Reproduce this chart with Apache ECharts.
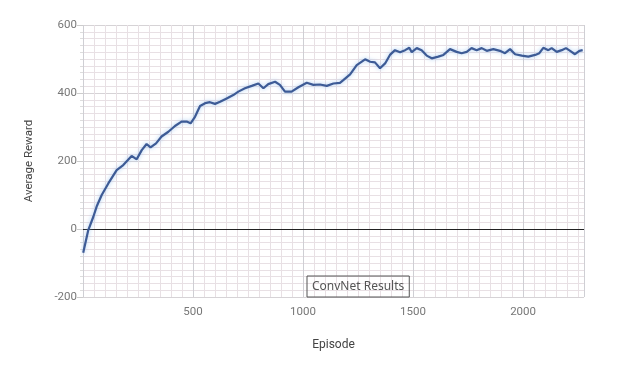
<!DOCTYPE html>
<html>
<head>
<meta charset="utf-8">
<script src="https://cdn.jsdelivr.net/npm/echarts@6/dist/echarts.min.js"></script>
<style>html,body{margin:0;padding:0;background:#fff;}#c{width:629px;height:365px;}</style>
</head>
<body>
<div id="c"></div>
<script>
const episodes = [1, 24, 47, 62, 85, 115, 153, 183, 221, 244, 267, 289, 307, 332, 357, 388, 418, 448, 471, 489, 509, 532, 555, 577, 600, 623, 653, 683, 706, 736, 767, 797, 820, 842, 873, 895, 918, 948, 979, 1017, 1047, 1077, 1108, 1138, 1168, 1183, 1214, 1244, 1282, 1305, 1327, 1350, 1373, 1395, 1418, 1441, 1464, 1483, 1494, 1517, 1539, 1562, 1585, 1615, 1638, 1668, 1698, 1721, 1744, 1766, 1789, 1812, 1835, 1865, 1895, 1918, 1941, 1964, 1994, 2024, 2055, 2074, 2092, 2115, 2130, 2153, 2176, 2195, 2214, 2236, 2256, 2271];
const rewards = [-70, -3, 36, 66, 100, 134, 173, 188, 215, 205, 232, 250, 240, 252, 272, 286, 303, 316, 316, 311, 330, 362, 370, 373, 368, 374, 384, 394, 404, 414, 421, 428, 414, 426, 433, 424, 404, 404, 417, 430, 424, 425, 421, 428, 430, 438, 455, 482, 499, 492, 490, 473, 487, 512, 526, 520, 526, 533, 520, 532, 526, 510, 502, 507, 512, 529, 521, 517, 521, 532, 526, 532, 524, 529, 524, 517, 529, 514, 510, 507, 512, 517, 533, 526, 532, 521, 526, 532, 524, 514, 524, 526];
const seriesName = 'ConvNet Results';
const xTickLabels = ['500', '1000', '1500', '2000'];
const yTickLabels = ['-200', '0', '200', '400', '600'];

const chart = echarts.init(document.getElementById('c'), null, {renderer: 'canvas'});
const font = 'Roboto, "Noto Sans", sans-serif';
chart.setOption({
  animation: false,
  backgroundColor: '#fff',
  grid: {left: 83, right: 45, top: 25, bottom: 68, containLabel: false},
  legend: {
    data: [seriesName],
    icon: 'none',
    itemWidth: 0,
    left: 307, top: 276,
    borderColor: '#555', borderWidth: 1, borderRadius: 0,
    padding: [4, 5, 4, 0],
    textStyle: {color: '#555', fontSize: 12, fontFamily: '"Noto Sans", sans-serif'}
  },
  xAxis: {
    type: 'value', min: 0, max: 2277, interval: 500,
    name: 'Episode', nameLocation: 'middle', nameGap: 42,
    nameTextStyle: {color: '#444', fontSize: 12, fontFamily: font},
    axisLine: {show: true, lineStyle: {color: '#ccc'}},
    axisTick: {show: false},
    axisLabel: {color: '#777', fontSize: 11.5, fontFamily: font, margin: 9,
      formatter: v => xTickLabels.includes(String(v)) ? String(v) : ''},
    splitLine: {show: true, lineStyle: {color: '#cfcfd4', width: 1}},
    minorTick: {show: false, splitNumber: 10},
    minorSplitLine: {show: true, lineStyle: {color: '#e8e0e4', width: 1}}
  },
  yAxis: {
    type: 'value', min: -200, max: 600, interval: 200,
    name: 'Average Reward', nameLocation: 'middle', nameGap: 48,
    nameTextStyle: {color: '#444', fontSize: 11.5, fontFamily: font},
    axisLine: {show: false},
    axisTick: {show: true, length: 6, lineStyle: {color: '#ccc'}},
    axisLabel: {color: '#777', fontSize: 11.5, fontFamily: font, margin: 6,
      formatter: v => yTickLabels.includes(String(v)) ? String(v) : ''},
    splitLine: {show: true, lineStyle: {color: '#d6d3d6', width: 1}},
    minorTick: {show: true, splitNumber: 10, length: 3, lineStyle: {color: '#ddd'}},
    minorSplitLine: {show: true, lineStyle: {color: '#e8e0e4', width: 1}}
  },
  series: [{
    name: seriesName,
    type: 'line',
    data: episodes.map((e, i) => [e, rewards[i]]),
    showSymbol: false,
    smooth: false,
    lineStyle: {color: '#3d5b96', width: 2.2, shadowColor: 'rgba(130,180,235,0.7)', shadowBlur: 4},
    itemStyle: {color: '#3d5b96'},
    markLine: {
      silent: true, symbol: 'none', label: {show: false},
      lineStyle: {color: '#222', width: 1, type: 'solid'},
      data: [{yAxis: 0}]
    },
    z: 5
  }]
});
</script>
</body>
</html>
